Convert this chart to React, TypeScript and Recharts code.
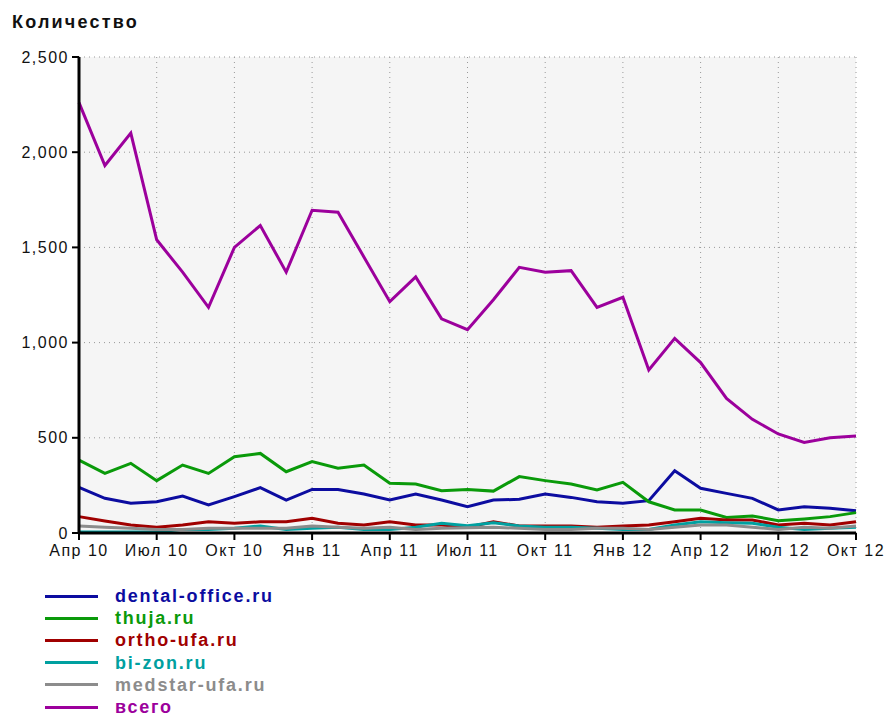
import { LineChart, Line, XAxis, YAxis, CartesianGrid } from "recharts"

const MONTHS = [
  "Апр 10", "Май 10", "Июн 10", "Июл 10", "Авг 10", "Сен 10", "Окт 10", "Ноя 10", "Дек 10",
  "Янв 11", "Фев 11", "Мар 11", "Апр 11", "Май 11", "Июн 11", "Июл 11", "Авг 11", "Сен 11",
  "Окт 11", "Ноя 11", "Дек 11", "Янв 12", "Фев 12", "Мар 12", "Апр 12", "Май 12", "Июн 12",
  "Июл 12", "Авг 12", "Сен 12", "Окт 12",
]

const X_TICKS = ["Апр 10", "Июл 10", "Окт 10", "Янв 11", "Апр 11", "Июл 11", "Окт 11", "Янв 12", "Апр 12", "Июл 12", "Окт 12"]
const Y_TICKS = [0, 500, 1000, 1500, 2000, 2500]

const DENTAL = [240, 182, 156, 164, 194, 147, 191, 238, 173, 229, 229, 205, 173, 205, 173, 138, 173, 177, 205, 187, 164, 156, 170, 327, 235, 208, 182, 121, 138, 130, 117]
const THUJA = [383, 313, 366, 275, 357, 313, 401, 418, 322, 375, 340, 357, 261, 257, 222, 229, 220, 296, 275, 257, 226, 266, 164, 121, 121, 82, 89, 65, 74, 86, 107]
const ORTHO = [86, 63, 42, 30, 42, 59, 51, 59, 59, 77, 51, 42, 59, 42, 42, 30, 59, 37, 37, 37, 30, 37, 42, 59, 77, 68, 68, 42, 51, 42, 59]
const BIZON = [5, 5, 5, 5, 19, 19, 25, 37, 19, 25, 30, 19, 19, 30, 51, 38, 54, 37, 30, 30, 25, 19, 19, 42, 59, 54, 51, 30, 19, 25, 30]
const MEDSTAR = [37, 30, 25, 19, 19, 25, 25, 25, 25, 37, 30, 25, 30, 19, 25, 27, 30, 25, 19, 19, 25, 25, 19, 30, 42, 42, 30, 19, 30, 25, 37]
const TOTAL = [2260, 1930, 2100, 1540, 1370, 1185, 1500, 1615, 1370, 1695, 1685, 1450, 1215, 1345, 1125, 1068, 1225, 1395, 1370, 1378, 1185, 1238, 856, 1022, 895, 707, 597, 520, 476, 500, 509]

const SERIES = [
  { key: "dental", name: "dental-office.ru", color: "#0c0ca0", values: DENTAL },
  { key: "thuja", name: "thuja.ru", color: "#0a9a0a", values: THUJA },
  { key: "ortho", name: "ortho-ufa.ru", color: "#a00000", values: ORTHO },
  { key: "bizon", name: "bi-zon.ru", color: "#00a0a0", values: BIZON },
  { key: "medstar", name: "medstar-ufa.ru", color: "#8c8c8c", values: MEDSTAR },
  { key: "total", name: "всего", color: "#9c009c", values: TOTAL },
]

const data = MONTHS.map((month, i) => {
  const row: Record<string, number | string> = { month }
  SERIES.forEach((s) => { row[s.key] = s.values[i] })
  return row
})

const FONT = "'Liberation Sans', Arial, sans-serif"
const tickStyle = { fill: "#111", fontSize: 16, fontFamily: FONT, letterSpacing: 1.5 }

export default function App() {
  return (
    <div style={{ position: "absolute", top: 0, left: 0, width: 887, height: 716, background: "#fff", fontFamily: FONT }}>
      <div style={{ position: "absolute", left: 12, top: 12, fontSize: 18, fontWeight: "bold", letterSpacing: 2.2, color: "#111" }}>
        Количество
      </div>

      <div style={{ position: "absolute", left: 0, top: 0 }}>
        <LineChart width={887} height={580} data={data} margin={{ top: 57, right: 31, left: 19, bottom: 17 }}>
          <CartesianGrid stroke="#999" strokeDasharray="1 4" fill="#f5f5f5" />
          <XAxis
            dataKey="month"
            ticks={X_TICKS}
            interval={0}
            height={30}
            tickSize={7}
            tickMargin={5}
            tick={tickStyle}
            axisLine={{ stroke: "#000", strokeWidth: 3 }}
            tickLine={{ stroke: "#000", strokeWidth: 2 }}
          />
          <YAxis
            domain={[0, 2500]}
            ticks={Y_TICKS}
            width={60}
            tickSize={7}
            tickMargin={3}
            tick={tickStyle}
            tickFormatter={(v: number) => v.toLocaleString("en-US")}
            axisLine={{ stroke: "#000", strokeWidth: 3 }}
            tickLine={{ stroke: "#000", strokeWidth: 2 }}
          />
          {SERIES.map((s) => (
            <Line
              key={s.key}
              type="linear"
              dataKey={s.key}
              name={s.name}
              stroke={s.color}
              strokeWidth={3}
              dot={false}
              activeDot={false}
              isAnimationActive={false}
            />
          ))}
        </LineChart>
      </div>

      {/* legend */}
      <div style={{ position: "absolute", left: 45, top: 585 }}>
        {SERIES.map((s) => (
          <div key={s.key} style={{ display: "flex", alignItems: "center", height: 22.2 }}>
            <span style={{ width: 53, height: 3, background: s.color, display: "inline-block" }} />
            <span style={{ marginLeft: 17, color: s.color, fontWeight: "bold", fontSize: 18, letterSpacing: 1.8, lineHeight: "22px" }}>
              {s.name}
            </span>
          </div>
        ))}
      </div>
    </div>
  )
}
